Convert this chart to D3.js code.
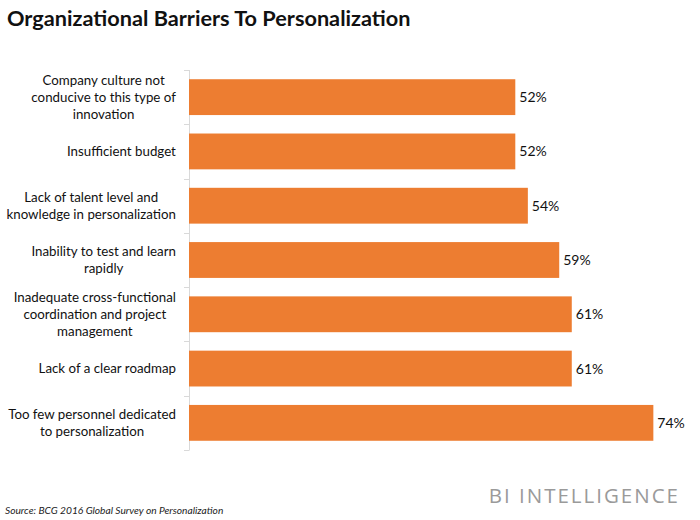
<!DOCTYPE html>
<html><head><meta charset="utf-8">
<script src="https://cdn.jsdelivr.net/npm/d3@7"></script>
<style>body{margin:0;background:#fff;} svg{display:block;}</style>
</head><body>
<script>
const categories = [
  ["Company culture not", "conducive to this type of", "innovation"],
  ["Insufficient budget"],
  ["Lack of talent level and", "knowledge in personalization"],
  ["Inability to test and learn", "rapidly"],
  ["Inadequate cross-functional", "coordination and project", "management"],
  ["Lack of a clear roadmap"],
  ["Too few personnel dedicated", "to personalization"]
];
const values = [52, 52, 54, 59, 61, 61, 74];
const valueLabels = ["52%", "52%", "54%", "59%", "61%", "61%", "74%"];

const W = 700, H = 520;
const svg = d3.select("body").append("svg").attr("width", W).attr("height", H);
const font = "Lato, 'Open Sans', sans-serif";

const idx = d3.range(categories.length);
const y = d3.scaleBand().domain(idx).range([70, 450]).paddingInner(0.34).paddingOuter(0.17);
const x = d3.scaleLinear().domain([0, 80]).range([189, 691]);

svg.append("text").attr("x", 7).attr("y", 26)
  .attr("font-family", font).attr("font-weight", "bold").attr("font-size", 21.7)
  .attr("fill", "#111").text("Organizational Barriers To Personalization");

svg.append("line").attr("x1", 189.5).attr("x2", 189.5).attr("y1", 70).attr("y2", 450)
  .attr("stroke", "#d9d9d9").attr("stroke-width", 1);
d3.range(categories.length + 1).forEach(i => {
  const yy = Math.round(70 + i * (380 / categories.length)) + 0.5;
  svg.append("line").attr("x1", 184).attr("x2", 189.5).attr("y1", yy).attr("y2", yy)
    .attr("stroke", "#d9d9d9").attr("stroke-width", 1);
});

svg.selectAll("rect.bar").data(idx).enter().append("rect")
  .attr("class", "bar")
  .attr("x", x(0)).attr("y", d => y(d))
  .attr("width", d => x(values[d]) - x(0)).attr("height", y.bandwidth())
  .attr("fill", "#ed7d31");

svg.selectAll("text.val").data(idx).enter().append("text")
  .attr("class", "val")
  .attr("x", d => x(values[d]) + 4).attr("y", d => y(d) + y.bandwidth() / 2)
  .attr("dy", "0.36em").attr("font-family", font).attr("font-size", 14)
  .attr("fill", "#111").text(d => valueLabels[d]);

const lh = 17;
idx.forEach(d => {
  const lines = categories[d];
  const cy = y(d) + y.bandwidth() / 2;
  const t = svg.append("text").attr("text-anchor", "middle")
    .attr("font-family", font).attr("font-size", 13.3).attr("fill", "#111");
  lines.forEach((ln, k) => {
    t.append("tspan").attr("x", 0).attr("y", cy + (k - (lines.length - 1) / 2) * lh)
      .attr("dy", "0.36em").text(ln);
  });
  const bb = t.node().getBBox();
  t.attr("transform", `translate(${176 - bb.width / 2},0)`);
});

svg.append("text").attr("x", 5).attr("y", 514)
  .attr("font-family", font).attr("font-style", "italic").attr("font-size", 10.2)
  .attr("fill", "#222").text("Source: BCG 2016 Global Survey on Personalization");

svg.append("text").attr("x", 680).attr("y", 503).attr("text-anchor", "end")
  .attr("font-family", "'Open Sans', sans-serif").attr("font-size", 20.5)
  .attr("letter-spacing", 2)
  .attr("fill", "#9a9a9a").text("BI INTELLIGENCE");
</script>
</body></html>
